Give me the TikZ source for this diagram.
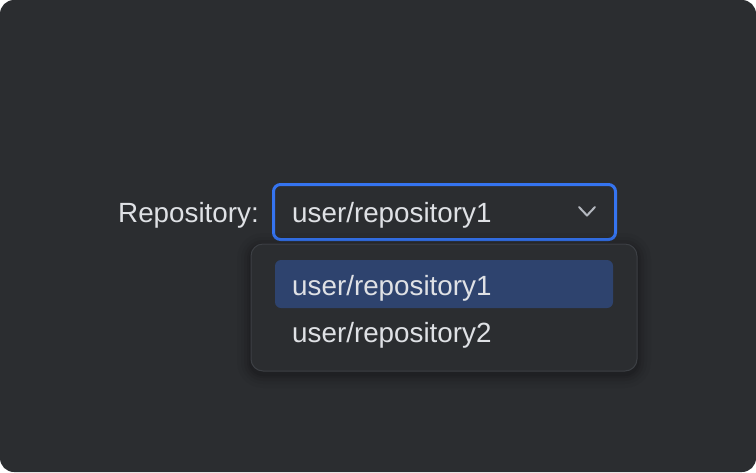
\documentclass[tikz,border=0pt]{standalone}
\usepackage{fontspec}
\setmainfont{Liberation Sans}
\usepackage{tikz}
\usetikzlibrary{positioning}
\usetikzlibrary{calc}

\definecolor{panelbg}{HTML}{2B2D30}
\definecolor{popupline}{HTML}{3C3F44}
\definecolor{focusblue}{HTML}{3574F0}
\definecolor{selectbg}{HTML}{2E436E}
\definecolor{labeltext}{HTML}{DFE1E5}
\definecolor{chevrongray}{HTML}{B4B8BF}

\tikzset{
    uitext/.style={text=labeltext, inner sep=0pt, font=\fontsize{27.8}{32}\selectfont},
    combobox/.style={draw=focusblue, line width=3pt, rounded corners=7pt, fill=panelbg,
        minimum width=342pt, minimum height=55pt, inner sep=0pt},
    popupbox/.style={draw=popupline, line width=1pt, rounded corners=12pt, fill=panelbg,
        minimum width=386pt, minimum height=127pt, inner sep=0pt},
    selectbox/.style={fill=selectbg, rounded corners=6pt,
        minimum width=338pt, minimum height=48pt, inner sep=0pt},
}

\begin{document}
\begin{tikzpicture}[x=1pt,y=-1pt]
    \useasboundingbox (0,0) rectangle (756,472);
    \fill[white] (0,0) rectangle (756,472);
    \fill[panelbg, rounded corners=14pt] (0,0) rectangle (756,472);

    % combo box
    \node[combobox] (combo) at (444.5,212) {};
    \node[uitext, anchor=base east] (label) at (259,222) {Repository:};
    \node[uitext, anchor=base west] (current) at (292,222) {user/repository1};
    \coordinate (chevL) at (579,207);
    \coordinate (chevM) at (587,215.5);
    \coordinate (chevR) at (595,207);
    \draw[chevrongray, line width=2pt, line cap=round, line join=round] (chevL) -- (chevM) -- (chevR);

    % popup with shadow
    \foreach \s/\o in {14/0.03,10/0.04,7/0.05,4/0.07,2/0.08}
        \fill[black, opacity=\o, rounded corners=12pt+\s pt]
            ($(251,247)+(-\s,-\s)$) rectangle ($(637,374)+(\s,\s)$);
    \node[popupbox] (popup) at (444,307.5) {};
    \node[selectbox] (item1) at (444,284) {};
    \node[uitext, anchor=base west] (itemtext1) at (292,295) {user/repository1};
    \node[uitext, anchor=base west] (itemtext2) at (292,342) {user/repository2};
\end{tikzpicture}
\end{document}
